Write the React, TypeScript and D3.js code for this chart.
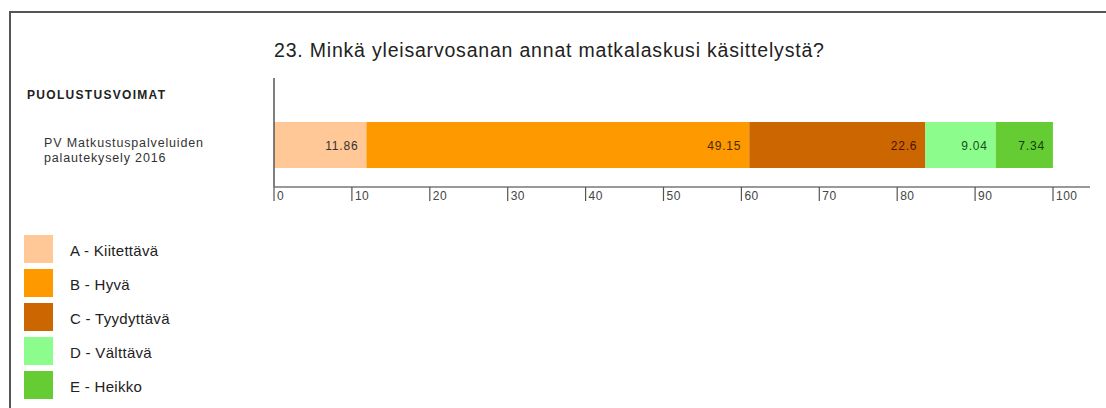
import React from "react";
import * as d3 from "d3";

const title = "23. Minkä yleisarvosanan annat matkalaskusi käsittelystä?";
const groupLabel = "PUOLUSTUSVOIMAT";
const rowLabel = ["PV Matkustuspalveluiden", "palautekysely 2016"];

const categories = ["A - Kiitettävä", "B - Hyvä", "C - Tyydyttävä", "D - Välttävä", "E - Heikko"];
const values = [11.86, 49.15, 22.6, 9.04, 7.34];
const fills = ["#ffc896", "#ff9900", "#cc6600", "#8cfc8c", "#66cc33"];
const labelColors = ["#333333", "#4a2a00", "#4a1400", "#145214", "#0f3d0f"];
const ticks = [0, 10, 20, 30, 40, 50, 60, 70, 80, 90, 100];

const W = 1106;
const H = 408;
const font = "'Liberation Sans', Arial, sans-serif";

export default function App() {
  const x = d3.scaleLinear().domain([0, 100]).range([274, 1053]);
  const y = d3.scaleBand().domain(["row"]).range([122, 168]);

  const stacked = values.map((v, i) => {
    const start = d3.sum(values.slice(0, i));
    return { v, i, x0: start, x1: start + v };
  });

  const legendY = d3.scaleBand().domain(categories).range([235, 399]).paddingInner(6 / 34).paddingOuter(0);

  const axisY = 187;

  return (
    <svg
      width={W}
      height={H}
      style={{ position: "absolute", left: 0, top: 0, background: "#fff" }}
      fontFamily={font}
    >
      {/* frame */}
      <path d={`M10,${H} V12 H${W}`} fill="none" stroke="#555" strokeWidth={2} />

      <text x={274} y={57} fontSize={19.5} letterSpacing={0.8} fill="#222">
        {title}
      </text>

      <text x={27} y={99} fontSize={12} fontWeight="bold" letterSpacing={1.3} fill="#222">
        {groupLabel}
      </text>
      {rowLabel.map((t, i) => (
        <text key={i} x={44} y={147 + i * 15} fontSize={12.5} letterSpacing={0.85} fill="#333">
          {t}
        </text>
      ))}

      {/* bars */}
      {stacked.map((d) => (
        <g key={d.i}>
          <rect
            x={x(d.x0)}
            y={y("row")}
            width={x(d.x1) - x(d.x0)}
            height={y.bandwidth()}
            fill={fills[d.i]}
          />
          <text
            x={x(d.x1) - 8}
            y={(y("row") as number) + y.bandwidth() / 2 + 4.5}
            textAnchor="end"
            fontSize={12}
            letterSpacing={0.8}
            fill={labelColors[d.i]}
          >
            {d.v}
          </text>
        </g>
      ))}

      {/* axes */}
      <line x1={274} x2={274} y1={78} y2={axisY} stroke="#555" strokeWidth={1.5} />
      <line x1={274} x2={1090} y1={axisY} y2={axisY} stroke="#777" strokeWidth={1.5} />
      {ticks.map((t) => (
        <g key={t} transform={`translate(${x(t)},0)`}>
          <line y1={axisY} y2={axisY + 14} stroke="#555" strokeWidth={1.2} />
          <text x={3} y={axisY + 13} fontSize={12} letterSpacing={0.5} fill="#444">
            {t}
          </text>
        </g>
      ))}

      {/* legend */}
      {categories.map((c, i) => (
        <g key={c} transform={`translate(0,${legendY(c)})`}>
          <rect x={24} width={29} height={legendY.bandwidth()} fill={fills[i]} />
          <text x={70} y={21} fontSize={15} letterSpacing={0.3} fill="#222">
            {c}
          </text>
        </g>
      ))}
    </svg>
  );
}
